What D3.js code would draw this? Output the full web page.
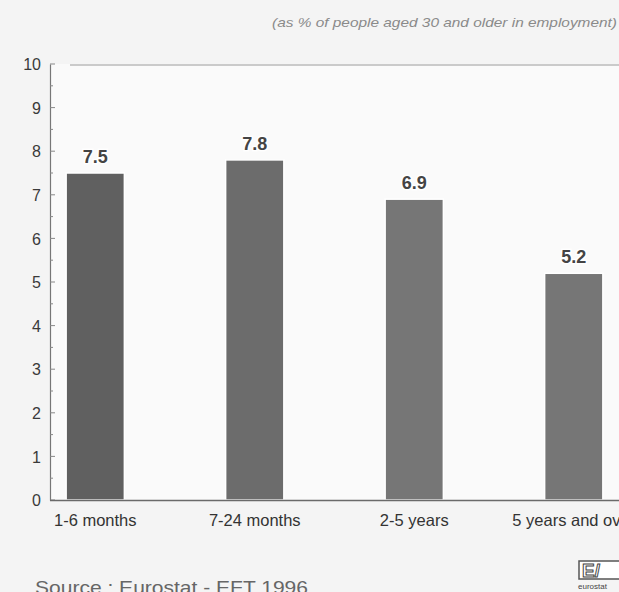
<!DOCTYPE html>
<html>
<head>
<meta charset="utf-8">
<script src="https://cdn.jsdelivr.net/npm/d3@7"></script>
<style>
  html, body { margin: 0; padding: 0; background: #f4f4f4; }
  svg { display: block; }
</style>
</head>
<body>
<svg id="chart" width="619" height="592"></svg>
<script>
// ---- data ----
const categories = ["1-6 months", "7-24 months", "2-5 years", "5 years and over"];
const values = [7.5, 7.8, 6.9, 5.2];
const valueLabels = ["7.5", "7.8", "6.9", "5.2"];
const yTicks = [0, 1, 2, 3, 4, 5, 6, 7, 8, 9, 10];
const subtitle = "(as % of people aged 30 and older in employment)";
const source = "Source : Eurostat - EFT 1996";

// ---- styles ----
const barColors = ["#606060", "#6c6c6c", "#767676", "#767676"];
const font = "'Liberation Sans', Arial, sans-serif";

const svg = d3.select("#chart");
const W = 619, H = 592;
const x0 = 50, yTop = 64, yBot = 500;

svg.append("rect").attr("width", W).attr("height", H).attr("fill", "#f4f4f4");
// lighter plot area
svg.append("rect").attr("x", x0 + 1).attr("y", yTop).attr("width", W - x0).attr("height", yBot - yTop)
  .attr("fill", "#fafafa");

const y = d3.scaleLinear().domain([0, 10]).range([yBot, yTop]);
const x = d3.scaleBand().domain(categories).range([15.5, 653.5])
  .paddingInner(0.635).paddingOuter(0.3175);

// top border
svg.append("line").attr("x1", 70).attr("x2", W).attr("y1", yTop + 1).attr("y2", yTop + 1)
  .attr("stroke", "#9a9a9a").attr("stroke-width", 1.2);

// bars
svg.append("g").selectAll("rect").data(values).join("rect")
  .attr("x", (d, i) => x(categories[i]))
  .attr("y", d => y(d))
  .attr("width", x.bandwidth())
  .attr("height", d => y(0) - y(d))
  .attr("fill", (d, i) => barColors[i])
  .attr("stroke", "#ffffff").attr("stroke-width", 1.5);

// value labels
svg.append("g").selectAll("text").data(values).join("text")
  .attr("x", (d, i) => x(categories[i]) + x.bandwidth() / 2)
  .attr("y", d => y(d) - 10)
  .attr("text-anchor", "middle")
  .attr("font-family", font).attr("font-size", 18).attr("font-weight", "bold")
  .attr("fill", "#444")
  .attr("stroke", "#ffffff").attr("stroke-width", 3).attr("paint-order", "stroke")
  .text((d, i) => valueLabels[i]);

// y axis
const yAxis = d3.axisLeft(y).tickValues(yTicks).tickSize(0).tickPadding(9);
const gy = svg.append("g").attr("transform", `translate(${x0},0)`).call(yAxis);
gy.select(".domain").attr("stroke", "#777").attr("stroke-width", 1.2);
gy.selectAll("text").attr("font-family", font).attr("font-size", 16)
  .attr("fill", "#3a3a3a").attr("dy", "0.35em");
// ticks to the right of axis (major and minor)
const minor = d3.range(0, 10.01, 0.5);
svg.append("g").selectAll("line").data(minor).join("line")
  .attr("x1", x0).attr("x2", d => Number.isInteger(d) ? x0 + 5 : x0 + 3)
  .attr("y1", d => y(d)).attr("y2", d => y(d))
  .attr("stroke", "#888").attr("stroke-width", 1);

// x axis
const xAxis = d3.axisBottom(x).tickSize(0).tickPadding(14);
const gx = svg.append("g").attr("transform", `translate(0,${yBot})`).call(xAxis);
gx.select(".domain").remove();
svg.append("line").attr("x1", x0).attr("x2", W).attr("y1", yBot + 0.5).attr("y2", yBot + 0.5)
  .attr("stroke", "#6a6a6a").attr("stroke-width", 1.5);
gx.selectAll("text").attr("font-family", font).attr("font-size", 16.5)
  .attr("fill", "#333");

// subtitle
svg.append("text").attr("x", 617).attr("y", 27).attr("text-anchor", "end")
  .attr("font-family", font).attr("font-size", 13)
  .attr("textLength", 345).attr("lengthAdjust", "spacingAndGlyphs")
  .attr("font-style", "italic").attr("fill", "#8a8a8a").text(subtitle);

// source
svg.append("text").attr("x", 35).attr("y", 594)
  .attr("font-family", font).attr("font-size", 19)
  .attr("textLength", 273).attr("lengthAdjust", "spacingAndGlyphs")
  .attr("fill", "#666").text(source);

// logo
const logo = svg.append("g");
logo.append("rect").attr("x", 579).attr("y", 561).attr("width", 50).attr("height", 18)
  .attr("fill", "#fff").attr("stroke", "#555").attr("stroke-width", 1.5);
logo.append("text").attr("x", 582).attr("y", 577).attr("font-family", font)
  .attr("font-size", 19).attr("font-weight", "bold").attr("fill", "#fff")
  .attr("stroke", "#444").attr("stroke-width", 1).text("E/");
logo.append("text").attr("x", 578).attr("y", 589).attr("font-family", font)
  .attr("font-size", 8).attr("fill", "#444").text("eurostat");
</script>
</body>
</html>
